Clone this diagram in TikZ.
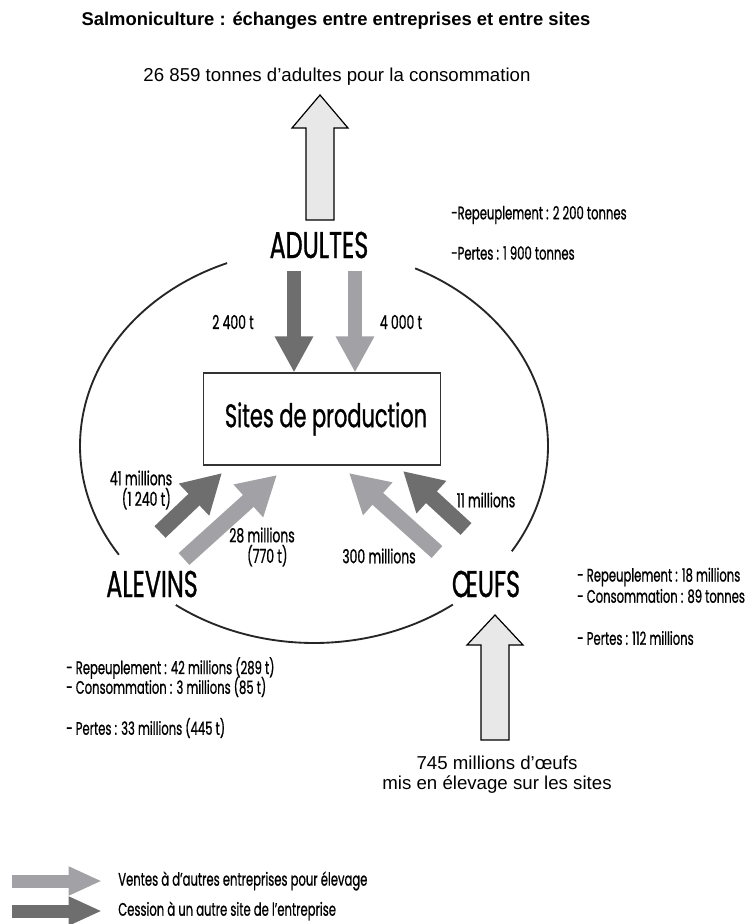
\documentclass[tikz,border=0pt]{standalone}
\usepackage{fontspec}
\setmainfont{Liberation Sans}
\newfontfamily\condfont[FakeStretch=0.64,FakeBold=0.8]{Poppins}
\usetikzlibrary{arrows.meta,calc}

\definecolor{darkflow}{HTML}{6E6E6E}
\definecolor{lightflow}{HTML}{A2A2A6}
\definecolor{paleflow}{HTML}{E8E8E8}

\tikzset{
  cat/.style={font=\condfont\fontsize{28}{28}\selectfont, inner sep=0pt},
  note/.style={font=\condfont\fontsize{13.6}{15}\selectfont, anchor=west, inner sep=0pt},
  val/.style={font=\condfont\fontsize{14.5}{15.5}\selectfont, inner sep=0pt, align=center},
  sanstext/.style={font=\fontsize{14}{15}\selectfont, inner sep=0pt, align=center},
  flowdark/.style={line width=10.5pt, draw=darkflow, -{Triangle[length=27pt,width=27pt]}},
  flowlight/.style={line width=10.5pt, draw=lightflow, -{Triangle[length=27pt,width=27pt]}},
  bigarrow/.style={draw=black, line width=0.9pt, fill=paleflow},
  ring/.style={line width=1.4pt, black!85}
}

\begin{document}
\begin{tikzpicture}[x=0.75pt,y=-0.75pt]
\useasboundingbox (0,0) rectangle (755,924);
% titres
\node[sanstext,font=\bfseries\fontsize{13.8}{15}\selectfont] (title) at (336,21) {Salmoniculture : échanges entre entreprises et entre sites};
\node[sanstext] (conso) at (337,77) {26 859 tonnes d’adultes pour la consommation};
% stades
\node[cat] (adultes) at (319,245) {ADULTES};
\node[cat] (alevins) at (152,584) {ALEVINS};
\node[cat] (oeufs) at (486,584) {ŒUFS};
\node[draw=black!80,line width=0.8pt,minimum width=178pt,minimum height=69pt,inner sep=0pt,
  font=\condfont\fontsize{24.5}{24.5}\selectfont] (sites) at (322,419) {\hspace*{6pt}Sites de production};
% cycle
\coordinate (C) at (314,446);
\draw[ring] ($(C)+(248.2:234 and 197)$) arc[start angle=248.2,end angle=146.5,x radius=234,y radius=197];
\draw[ring] ($(C)+(126.2:234 and 197)$) arc[start angle=126.2,end angle=53.6,x radius=234,y radius=197];
\draw[ring] ($(C)+(32.3:234 and 197)$) arc[start angle=32.3,end angle=-64.4,x radius=234,y radius=197];
% grosses fleches
\coordinate (ctip) at (320,95);
\coordinate (cbase) at (320,220);
\draw[bigarrow] ($(cbase)+(-14,0)$) -- ($(ctip)+(-14,33)$) -- ($(ctip)+(-28,33)$) -- (ctip)
  -- ($(ctip)+(28,33)$) -- ($(ctip)+(14,33)$) -- ($(cbase)+(14,0)$) -- cycle;
\coordinate (otip) at (495,615);
\coordinate (obase) at (495,740);
\draw[bigarrow] ($(obase)+(-14,0)$) -- ($(otip)+(-14,30)$) -- ($(otip)+(-28,30)$) -- (otip)
  -- ($(otip)+(28,30)$) -- ($(otip)+(14,30)$) -- ($(obase)+(14,0)$) -- cycle;
\node[sanstext] (mise) at (497,775) {745 millions d’œufs\\mis en élevage sur les sites};
% flux vers les sites
\coordinate (a1) at (294,271);
\coordinate (a2) at (355,271);
\draw[flowdark] (a1) -- (a1 |- sites.north);
\draw[flowlight] (a2) -- (a2 |- sites.north);
\coordinate (l1) at (160,532);
\coordinate (l2) at (184,559);
\coordinate (r1) at (437,552);
\coordinate (r2) at (466,529);
\draw[flowdark,line width=12pt,-{Triangle[length=29pt,width=31pt]}] (l1) -- (222,473);
\draw[flowlight,line width=12pt,-{Triangle[length=29pt,width=31pt]}] (l2) -- (277,475);
\draw[flowlight,line width=12pt,-{Triangle[length=29pt,width=31pt]}] (r1) -- (349,473);
\draw[flowdark,line width=12pt,-{Triangle[length=29pt,width=31pt]}] (r2) -- (403,471);
\node[val] (v1) at (233,322) {2 400 t};
\node[val] (v2) at (401,322) {4 000 t};
\node[val] (v3) at (141,490) {41 millions\\\hspace*{8pt}(1 240 t)};
\node[val] (v4) at (262,547) {28 millions\\\hspace*{8pt}(770 t)};
\node[val] (v5) at (379,556) {300 millions};
\node[val] (v6) at (486,500) {11 millions};
% bilans
\node[note] (n1) at (451,215) {-Repeuplement : 2 200 tonnes};
\node[note] (n2) at (451,253) {-Pertes : 1 900 tonnes};
\node[note] (n3) at (577,577) {- Repeuplement : 18 millions};
\node[note] (n4) at (577,596) {- Consommation : 89 tonnes};
\node[note] (n5) at (577,638) {- Pertes : 112 millions};
\node[note] (n6) at (66,668) {- Repeuplement : 42 millions (289 t)};
\node[note] (n7) at (66,687) {- Consommation : 3 millions (85 t)};
\node[note] (n8) at (66,728) {- Pertes : 33 millions (445 t)};
% legende
\coordinate (k1) at (12,881);
\coordinate (k2) at (12,911);
\draw[line width=9.75pt,draw=lightflow,-{Triangle[length=25pt,width=20pt]}] (k1) -- ++(90,0);
\draw[line width=9.75pt,draw=darkflow,-{Triangle[length=25pt,width=20pt]}] (k2) -- ++(90,0);
\node[note] (leg1) at (118,881) {Ventes à d’autres entreprises pour élevage};
\node[note] (leg2) at (118,911) {Cession à un autre site de l’entreprise};
\end{tikzpicture}
\end{document}
